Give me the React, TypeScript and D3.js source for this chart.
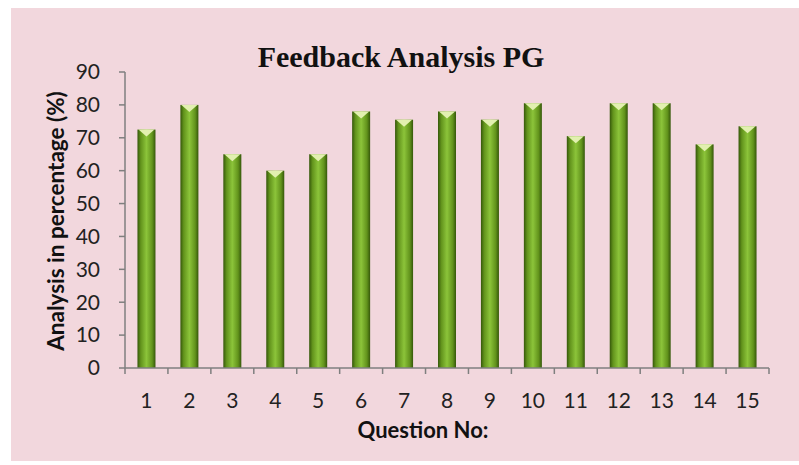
import React from 'react'
import { scaleBand, scaleLinear, range } from 'd3'

const questions = ['1', '2', '3', '4', '5', '6', '7', '8', '9', '10', '11', '12', '13', '14', '15']
const values = [72.5, 80, 65, 60, 65, 78, 75.5, 78, 75.5, 80.5, 70.5, 80.5, 80.5, 68, 73.5]
const yTicks = [0, 10, 20, 30, 40, 50, 60, 70, 80, 90]

const W = 799
const H = 465
const M = { top: 72, bottom: 97, left: 125, right: 30 }

const App: React.FC = () => {
  const innerW = W - M.left - M.right
  const innerH = H - M.top - M.bottom

  const x = scaleBand<string>().domain(questions).range([0, innerW])
  const y = scaleLinear().domain([0, 90]).range([innerH, 0])
  const barW = 18

  return (
    <div style={{ position: 'fixed', left: 0, top: 0 }}>
      <svg width={W} height={H} style={{ display: 'block' }}>
        <defs>
          <linearGradient id="barGrad" x1={0} x2={1} y1={0} y2={0}>
            <stop offset="0%" stopColor="#35570a" />
            <stop offset="18%" stopColor="#62931c" />
            <stop offset="50%" stopColor="#8cc43a" />
            <stop offset="82%" stopColor="#62931c" />
            <stop offset="100%" stopColor="#35570a" />
          </linearGradient>
        </defs>
        <rect width={W} height={H} fill="#ffffff" />
        <rect x={11} y={8} width={W - 11} height={H - 12} fill="#f2d7dd" />

        <text x={401} y={67} textAnchor="middle" fontFamily="Liberation Serif, Times New Roman, serif" fontWeight="bold" fontSize={30} fill="#111">
          Feedback Analysis PG
        </text>

        <g transform={`translate(${M.left},${M.top})`}>
          {values.map((v, i) => {
            const cx = (x(questions[i]) ?? 0) + x.bandwidth() / 2
            const top = y(v)
            return (
              <g key={i}>
                <rect x={cx - barW / 2} y={top} width={barW} height={innerH - top} fill="url(#barGrad)" />
                <polygon
                  points={`${cx - barW / 2 + 1},${top} ${cx + barW / 2 - 1},${top} ${cx},${top + 7}`}
                  fill="#e2f0b0"
                />
              </g>
            )
          })}

          <line x1={0} x2={0} y1={0} y2={innerH} stroke="#7f7f7f" strokeWidth={1.5} />
          <line x1={0} x2={innerW} y1={innerH} y2={innerH} stroke="#7f7f7f" strokeWidth={1.5} />
          {yTicks.map((t) => (
            <g key={t}>
              <line x1={-6} x2={0} y1={y(t)} y2={y(t)} stroke="#7f7f7f" strokeWidth={1.5} />
              <text x={-25} y={y(t)} dy="0.35em" textAnchor="end" fontFamily="Lato, Open Sans, sans-serif" fontSize={21} fill="#222">
                {t}
              </text>
            </g>
          ))}
          {range(questions.length + 1).map((i) => (
            <line key={i} x1={i * x.step()} x2={i * x.step()} y1={innerH} y2={innerH + 6} stroke="#7f7f7f" strokeWidth={1.5} />
          ))}
          {questions.map((q) => (
            <text key={q} x={(x(q) ?? 0) + x.bandwidth() / 2} y={innerH + 40} textAnchor="middle" fontFamily="Lato, Open Sans, sans-serif" fontSize={21} fill="#222">
              {q}
            </text>
          ))}
          <text x={298} y={innerH + 70} textAnchor="middle" fontFamily="Lato, Open Sans, sans-serif" fontWeight="bold" fontSize={22} fill="#111">
            Question No:
          </text>
          <text transform={`translate(-69,${221 - M.top}) rotate(-90)`} dy="0.35em" textAnchor="middle" fontFamily="Lato, Open Sans, sans-serif" fontWeight="bold" fontSize={22.5} fill="#111">
            Analysis in percentage (%)
          </text>
        </g>
      </svg>
    </div>
  )
}

export default App
